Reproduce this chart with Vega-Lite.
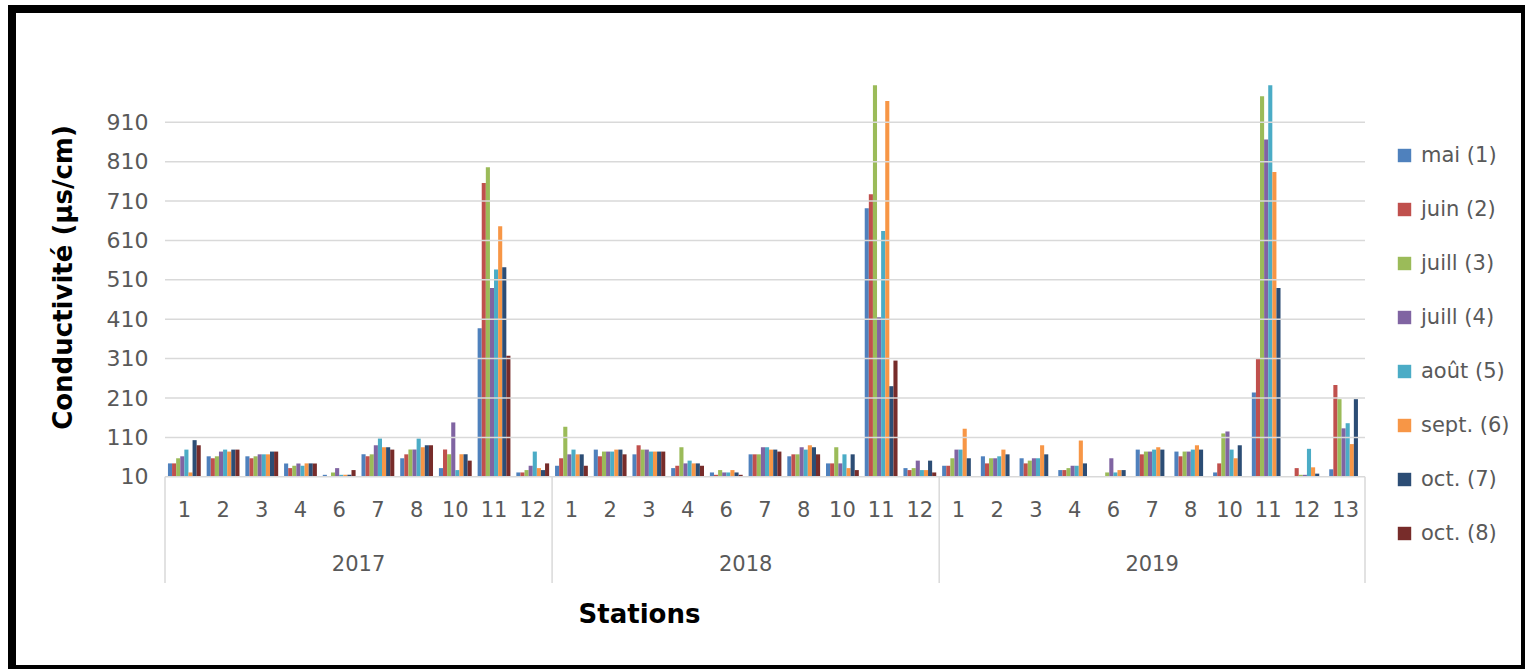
{
  "$schema": "https://vega.github.io/schema/vega-lite/v6.json",
  "autosize": "none",
  "width": 1513,
  "height": 660,
  "padding": {"left": 12, "top": 9, "right": 0, "bottom": 0},
  "background": "white",
  "config": {"view": {"stroke": "black", "strokeWidth": 8}, "font": "DejaVu Sans"},
  "datasets": {
    "grid": [{"v": 10}, {"v": 110}, {"v": 210}, {"v": 310}, {"v": 410}, {"v": 510}, {"v": 610}, {"v": 710}, {"v": 810}, {"v": 910}],
    "sep0": [{"k": "2017|1"}, {"k": "2018|1"}, {"k": "2019|1"}],
    "sep1": [{"k": "2019|13"}],
    "yl1": [{"k": "2017|6", "an": "2017"}, {"k": "2018|6", "an": "2018"}],
    "yl2": [{"k": "2019|7", "an": "2019"}],
    "bars": [
      {"k":"2017|1","m":"mai (1)","v":44},{"k":"2017|1","m":"juin (2)","v":44},{"k":"2017|1","m":"juill (3)","v":57},{"k":"2017|1","m":"juill (4)","v":62},{"k":"2017|1","m":"août (5)","v":79},{"k":"2017|1","m":"sept. (6)","v":21},{"k":"2017|1","m":"oct. (7)","v":103},{"k":"2017|1","m":"oct. (8)","v":90},
      {"k":"2017|2","m":"mai (1)","v":62},{"k":"2017|2","m":"juin (2)","v":57},{"k":"2017|2","m":"juill (3)","v":62},{"k":"2017|2","m":"juill (4)","v":74},{"k":"2017|2","m":"août (5)","v":79},{"k":"2017|2","m":"sept. (6)","v":74},{"k":"2017|2","m":"oct. (7)","v":79},{"k":"2017|2","m":"oct. (8)","v":79},
      {"k":"2017|3","m":"mai (1)","v":62},{"k":"2017|3","m":"juin (2)","v":57},{"k":"2017|3","m":"juill (3)","v":62},{"k":"2017|3","m":"juill (4)","v":67},{"k":"2017|3","m":"août (5)","v":67},{"k":"2017|3","m":"sept. (6)","v":67},{"k":"2017|3","m":"oct. (7)","v":74},{"k":"2017|3","m":"oct. (8)","v":74},
      {"k":"2017|4","m":"mai (1)","v":44},{"k":"2017|4","m":"juin (2)","v":32},{"k":"2017|4","m":"juill (3)","v":38},{"k":"2017|4","m":"juill (4)","v":44},{"k":"2017|4","m":"août (5)","v":38},{"k":"2017|4","m":"sept. (6)","v":44},{"k":"2017|4","m":"oct. (7)","v":44},{"k":"2017|4","m":"oct. (8)","v":44},
      {"k":"2017|6","m":"mai (1)","v":15},{"k":"2017|6","m":"juill (3)","v":21},{"k":"2017|6","m":"juill (4)","v":32},{"k":"2017|6","m":"août (5)","v":15},{"k":"2017|6","m":"sept. (6)","v":15},{"k":"2017|6","m":"oct. (7)","v":15},{"k":"2017|6","m":"oct. (8)","v":27},
      {"k":"2017|7","m":"mai (1)","v":67},{"k":"2017|7","m":"juin (2)","v":62},{"k":"2017|7","m":"juill (3)","v":67},{"k":"2017|7","m":"juill (4)","v":90},{"k":"2017|7","m":"août (5)","v":107},{"k":"2017|7","m":"sept. (6)","v":85},{"k":"2017|7","m":"oct. (7)","v":85},{"k":"2017|7","m":"oct. (8)","v":79},
      {"k":"2017|8","m":"mai (1)","v":57},{"k":"2017|8","m":"juin (2)","v":67},{"k":"2017|8","m":"juill (3)","v":79},{"k":"2017|8","m":"juill (4)","v":79},{"k":"2017|8","m":"août (5)","v":107},{"k":"2017|8","m":"sept. (6)","v":85},{"k":"2017|8","m":"oct. (7)","v":90},{"k":"2017|8","m":"oct. (8)","v":90},
      {"k":"2017|10","m":"mai (1)","v":32},{"k":"2017|10","m":"juin (2)","v":79},{"k":"2017|10","m":"juill (3)","v":67},{"k":"2017|10","m":"juill (4)","v":148},{"k":"2017|10","m":"août (5)","v":27},{"k":"2017|10","m":"sept. (6)","v":67},{"k":"2017|10","m":"oct. (7)","v":67},{"k":"2017|10","m":"oct. (8)","v":51},
      {"k":"2017|11","m":"mai (1)","v":387},{"k":"2017|11","m":"juin (2)","v":756},{"k":"2017|11","m":"juill (3)","v":796},{"k":"2017|11","m":"juill (4)","v":489},{"k":"2017|11","m":"août (5)","v":536},{"k":"2017|11","m":"sept. (6)","v":646},{"k":"2017|11","m":"oct. (7)","v":542},{"k":"2017|11","m":"oct. (8)","v":317},
      {"k":"2017|12","m":"mai (1)","v":21},{"k":"2017|12","m":"juin (2)","v":21},{"k":"2017|12","m":"juill (3)","v":27},{"k":"2017|12","m":"juill (4)","v":38},{"k":"2017|12","m":"août (5)","v":74},{"k":"2017|12","m":"sept. (6)","v":32},{"k":"2017|12","m":"oct. (7)","v":27},{"k":"2017|12","m":"oct. (8)","v":44},
      {"k":"2018|1","m":"mai (1)","v":38},{"k":"2018|1","m":"juin (2)","v":57},{"k":"2018|1","m":"juill (3)","v":137},{"k":"2018|1","m":"juill (4)","v":67},{"k":"2018|1","m":"août (5)","v":79},{"k":"2018|1","m":"sept. (6)","v":67},{"k":"2018|1","m":"oct. (7)","v":67},{"k":"2018|1","m":"oct. (8)","v":38},
      {"k":"2018|2","m":"mai (1)","v":79},{"k":"2018|2","m":"juin (2)","v":62},{"k":"2018|2","m":"juill (3)","v":74},{"k":"2018|2","m":"juill (4)","v":74},{"k":"2018|2","m":"août (5)","v":74},{"k":"2018|2","m":"sept. (6)","v":79},{"k":"2018|2","m":"oct. (7)","v":79},{"k":"2018|2","m":"oct. (8)","v":67},
      {"k":"2018|3","m":"mai (1)","v":67},{"k":"2018|3","m":"juin (2)","v":90},{"k":"2018|3","m":"juill (3)","v":79},{"k":"2018|3","m":"juill (4)","v":79},{"k":"2018|3","m":"août (5)","v":74},{"k":"2018|3","m":"sept. (6)","v":74},{"k":"2018|3","m":"oct. (7)","v":74},{"k":"2018|3","m":"oct. (8)","v":74},
      {"k":"2018|4","m":"mai (1)","v":32},{"k":"2018|4","m":"juin (2)","v":38},{"k":"2018|4","m":"juill (3)","v":85},{"k":"2018|4","m":"juill (4)","v":44},{"k":"2018|4","m":"août (5)","v":51},{"k":"2018|4","m":"sept. (6)","v":44},{"k":"2018|4","m":"oct. (7)","v":44},{"k":"2018|4","m":"oct. (8)","v":38},
      {"k":"2018|6","m":"mai (1)","v":21},{"k":"2018|6","m":"juin (2)","v":15},{"k":"2018|6","m":"juill (3)","v":27},{"k":"2018|6","m":"juill (4)","v":21},{"k":"2018|6","m":"août (5)","v":21},{"k":"2018|6","m":"sept. (6)","v":27},{"k":"2018|6","m":"oct. (7)","v":21},{"k":"2018|6","m":"oct. (8)","v":15},
      {"k":"2018|7","m":"mai (1)","v":67},{"k":"2018|7","m":"juin (2)","v":67},{"k":"2018|7","m":"juill (3)","v":67},{"k":"2018|7","m":"juill (4)","v":85},{"k":"2018|7","m":"août (5)","v":85},{"k":"2018|7","m":"sept. (6)","v":79},{"k":"2018|7","m":"oct. (7)","v":79},{"k":"2018|7","m":"oct. (8)","v":74},
      {"k":"2018|8","m":"mai (1)","v":62},{"k":"2018|8","m":"juin (2)","v":67},{"k":"2018|8","m":"juill (3)","v":67},{"k":"2018|8","m":"juill (4)","v":85},{"k":"2018|8","m":"août (5)","v":79},{"k":"2018|8","m":"sept. (6)","v":90},{"k":"2018|8","m":"oct. (7)","v":85},{"k":"2018|8","m":"oct. (8)","v":67},
      {"k":"2018|10","m":"mai (1)","v":44},{"k":"2018|10","m":"juin (2)","v":44},{"k":"2018|10","m":"juill (3)","v":85},{"k":"2018|10","m":"juill (4)","v":44},{"k":"2018|10","m":"août (5)","v":67},{"k":"2018|10","m":"sept. (6)","v":32},{"k":"2018|10","m":"oct. (7)","v":67},{"k":"2018|10","m":"oct. (8)","v":27},
      {"k":"2018|11","m":"mai (1)","v":692},{"k":"2018|11","m":"juin (2)","v":727},{"k":"2018|11","m":"juill (3)","v":1004},{"k":"2018|11","m":"juill (4)","v":415},{"k":"2018|11","m":"août (5)","v":634},{"k":"2018|11","m":"sept. (6)","v":964},{"k":"2018|11","m":"oct. (7)","v":240},{"k":"2018|11","m":"oct. (8)","v":305},
      {"k":"2018|12","m":"mai (1)","v":32},{"k":"2018|12","m":"juin (2)","v":27},{"k":"2018|12","m":"juill (3)","v":32},{"k":"2018|12","m":"juill (4)","v":51},{"k":"2018|12","m":"août (5)","v":27},{"k":"2018|12","m":"sept. (6)","v":27},{"k":"2018|12","m":"oct. (7)","v":51},{"k":"2018|12","m":"oct. (8)","v":21},
      {"k":"2019|1","m":"mai (1)","v":38},{"k":"2019|1","m":"juin (2)","v":38},{"k":"2019|1","m":"juill (3)","v":57},{"k":"2019|1","m":"juill (4)","v":79},{"k":"2019|1","m":"août (5)","v":79},{"k":"2019|1","m":"sept. (6)","v":132},{"k":"2019|1","m":"oct. (7)","v":57},
      {"k":"2019|2","m":"mai (1)","v":62},{"k":"2019|2","m":"juin (2)","v":44},{"k":"2019|2","m":"juill (3)","v":57},{"k":"2019|2","m":"juill (4)","v":57},{"k":"2019|2","m":"août (5)","v":62},{"k":"2019|2","m":"sept. (6)","v":79},{"k":"2019|2","m":"oct. (7)","v":67},
      {"k":"2019|3","m":"mai (1)","v":57},{"k":"2019|3","m":"juin (2)","v":44},{"k":"2019|3","m":"juill (3)","v":51},{"k":"2019|3","m":"juill (4)","v":57},{"k":"2019|3","m":"août (5)","v":57},{"k":"2019|3","m":"sept. (6)","v":90},{"k":"2019|3","m":"oct. (7)","v":67},
      {"k":"2019|4","m":"mai (1)","v":27},{"k":"2019|4","m":"juin (2)","v":27},{"k":"2019|4","m":"juill (3)","v":32},{"k":"2019|4","m":"juill (4)","v":38},{"k":"2019|4","m":"août (5)","v":38},{"k":"2019|4","m":"sept. (6)","v":102},{"k":"2019|4","m":"oct. (7)","v":44},
      {"k":"2019|6","m":"juill (3)","v":21},{"k":"2019|6","m":"juill (4)","v":57},{"k":"2019|6","m":"août (5)","v":21},{"k":"2019|6","m":"sept. (6)","v":27},{"k":"2019|6","m":"oct. (7)","v":27},
      {"k":"2019|7","m":"mai (1)","v":79},{"k":"2019|7","m":"juin (2)","v":67},{"k":"2019|7","m":"juill (3)","v":74},{"k":"2019|7","m":"juill (4)","v":74},{"k":"2019|7","m":"août (5)","v":79},{"k":"2019|7","m":"sept. (6)","v":85},{"k":"2019|7","m":"oct. (7)","v":79},
      {"k":"2019|8","m":"mai (1)","v":74},{"k":"2019|8","m":"juin (2)","v":62},{"k":"2019|8","m":"juill (3)","v":74},{"k":"2019|8","m":"juill (4)","v":74},{"k":"2019|8","m":"août (5)","v":79},{"k":"2019|8","m":"sept. (6)","v":90},{"k":"2019|8","m":"oct. (7)","v":79},
      {"k":"2019|10","m":"mai (1)","v":21},{"k":"2019|10","m":"juin (2)","v":44},{"k":"2019|10","m":"juill (3)","v":120},{"k":"2019|10","m":"juill (4)","v":125},{"k":"2019|10","m":"août (5)","v":79},{"k":"2019|10","m":"sept. (6)","v":57},{"k":"2019|10","m":"oct. (7)","v":90},
      {"k":"2019|11","m":"mai (1)","v":224},{"k":"2019|11","m":"juin (2)","v":311},{"k":"2019|11","m":"juill (3)","v":976},{"k":"2019|11","m":"juill (4)","v":866},{"k":"2019|11","m":"août (5)","v":1004},{"k":"2019|11","m":"sept. (6)","v":784},{"k":"2019|11","m":"oct. (7)","v":489},
      {"k":"2019|12","m":"juin (2)","v":32},{"k":"2019|12","m":"juill (3)","v":15},{"k":"2019|12","m":"juill (4)","v":15},{"k":"2019|12","m":"août (5)","v":81},{"k":"2019|12","m":"sept. (6)","v":34},{"k":"2019|12","m":"oct. (7)","v":18},
      {"k":"2019|13","m":"mai (1)","v":29},{"k":"2019|13","m":"juin (2)","v":243},{"k":"2019|13","m":"juill (3)","v":207},{"k":"2019|13","m":"juill (4)","v":133},{"k":"2019|13","m":"août (5)","v":146},{"k":"2019|13","m":"sept. (6)","v":93},{"k":"2019|13","m":"oct. (7)","v":207}
    ]
  },
  "layer": [
    {
      "data": {"name": "bars"},
      "mark": {"type": "bar"},
      "encoding": {
        "x": {
          "field": "k", "type": "nominal",
          "scale": {
            "domain": ["2017|1","2017|2","2017|3","2017|4","2017|6","2017|7","2017|8","2017|10","2017|11","2017|12","2018|1","2018|2","2018|3","2018|4","2018|6","2018|7","2018|8","2018|10","2018|11","2018|12","2019|1","2019|2","2019|3","2019|4","2019|6","2019|7","2019|8","2019|10","2019|11","2019|12","2019|13"],
            "range": [153, 1353],
            "paddingInner": 0, "paddingOuter": 0
          },
          "axis": {
            "orient": "bottom", "offset": -192.2, "domain": false, "ticks": false, "tickSize": 0, "grid": false,
            "labelExpr": "split(datum.value, '|')[1]", "labelAngle": 0, "labelOverlap": false,
            "labelBaseline": "middle", "labelPadding": 34, "labelFontSize": 21, "labelColor": "#595959",
            "title": "Stations", "titleFontSize": 26, "titleFontWeight": "bold", "titleColor": "black",
            "titleX": 627, "titleY": 138, "titleAlign": "center", "titleBaseline": "middle"
          }
        },
        "xOffset": {
          "field": "m", "type": "nominal",
          "sort": ["mai (1)","juin (2)","juill (3)","juill (4)","août (5)","sept. (6)","oct. (7)","oct. (8)"],
          "scale": {"paddingInner": 0, "paddingOuter": 0.72}
        },
        "y": {
          "field": "v", "type": "quantitative",
          "scale": {"domain": [-478, 1197.6], "nice": false, "zero": false},
          "axis": {
            "values": [10, 110, 210, 310, 410, 510, 610, 710, 810, 910],
            "offset": -153, "domain": false, "ticks": false, "grid": false,
            "labelPadding": 17, "labelFontSize": 22, "labelColor": "#595959",
            "title": "Conductivité (µs/cm)", "titleFontSize": 26, "titleFontWeight": "bold", "titleColor": "black",
            "titleX": -102, "titleY": 268, "titleAngle": 270, "titleAlign": "center", "titleBaseline": "middle"
          }
        },
        "y2": {"datum": 10},
        "color": {
          "field": "m", "type": "nominal",
          "scale": {
            "domain": ["mai (1)","juin (2)","juill (3)","juill (4)","août (5)","sept. (6)","oct. (7)","oct. (8)"],
            "range": ["#4F81BD","#C0504D","#9BBB59","#8064A2","#4BACC6","#F79646","#2C4D75","#772C2A"]
          },
          "legend": {
            "orient": "none", "legendX": 1382, "legendY": 136, "title": null,
            "symbolType": "square", "symbolSize": 180, "symbolStrokeWidth": 0,
            "labelFontSize": 21, "labelColor": "#595959", "labelOffset": 6,
            "rowPadding": 32, "padding": 0
          }
        }
      }
    },
    {
      "data": {"name": "grid"},
      "mark": {"type": "rule", "color": "#d9d9d9", "strokeWidth": 1.5},
      "encoding": {
        "y": {"field": "v", "type": "quantitative"},
        "x": {"datum": "2017|1", "type": "nominal", "bandPosition": 0},
        "x2": {"datum": "2019|13", "bandPosition": 1}
      }
    },
    {
      "data": {"name": "sep0"},
      "mark": {"type": "rule", "color": "#d9d9d9", "strokeWidth": 1.5},
      "encoding": {
        "x": {"field": "k", "type": "nominal", "bandPosition": 0},
        "y": {"datum": 10, "type": "quantitative"},
        "y2": {"datum": -259.6}
      }
    },
    {
      "data": {"name": "sep1"},
      "mark": {"type": "rule", "color": "#d9d9d9", "strokeWidth": 1.5},
      "encoding": {
        "x": {"field": "k", "type": "nominal", "bandPosition": 1},
        "y": {"datum": 10, "type": "quantitative"},
        "y2": {"datum": -259.6}
      }
    },
    {
      "data": {"name": "yl1"},
      "mark": {"type": "text", "fontSize": 21, "color": "#595959", "baseline": "middle", "align": "center"},
      "encoding": {
        "x": {"field": "k", "type": "nominal", "bandPosition": 1},
        "y": {"datum": -213.9, "type": "quantitative"},
        "text": {"field": "an"}
      }
    },
    {
      "data": {"name": "yl2"},
      "mark": {"type": "text", "fontSize": 21, "color": "#595959", "baseline": "middle", "align": "center"},
      "encoding": {
        "x": {"field": "k", "type": "nominal", "bandPosition": 0.5},
        "y": {"datum": -213.9, "type": "quantitative"},
        "text": {"field": "an"}
      }
    }
  ]
}
